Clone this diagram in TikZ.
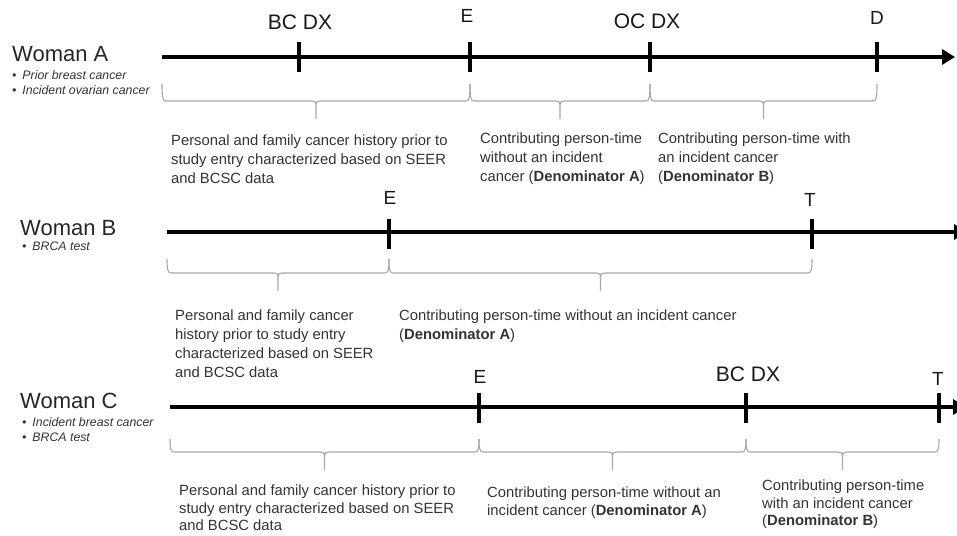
\documentclass[tikz,border=0pt]{standalone}
\usepackage{fontspec}
\setmainfont{Liberation Sans}
\usetikzlibrary{arrows.meta}

\definecolor{bodygray}{HTML}{333333}
\definecolor{bracegray}{HTML}{A8A8A8}

\tikzset{
  timeline/.style={line width=4pt, -{Triangle[length=13pt,width=15pt]}},
  tickmark/.style={line width=4pt},
  event/.style={font=\fontsize{19}{22}\selectfont, anchor=base, inner sep=0pt, text=black!90},
  diagnosis/.style={event, font=\fontsize{21}{24}\selectfont},
  woman/.style={font=\fontsize{22}{26}\selectfont, anchor=base west, inner sep=0pt, text=black!85},
  bullets/.style={font=\fontsize{12.3}{15}\selectfont\itshape, anchor=north west, align=left, inner sep=0pt, text=bodygray},
  note/.style={font=\fontsize{14.8}{19}\selectfont, anchor=north west, align=left, inner sep=0pt, text=bodygray},
  tight note/.style={note, font=\fontsize{14.8}{17.5}\selectfont},
  brace line/.style={draw=bracegray, line width=1.1pt}
}

% brace under a span: left x, right x, top of ends, level of flat part
\newcommand{\spanbrace}[4]{%
  \pgfmathsetmacro{\bxm}{(#1+#2)/2}
  \draw[brace line] (#1,#3) .. controls (#1,#4-3) and (#1+1,#4) .. (#1+4,#4) -- (\bxm-4,#4)
    .. controls (\bxm-1,#4) and (\bxm,#4+1) .. (\bxm,#4+4) -- (\bxm,#4+18)
    (\bxm,#4+4) .. controls (\bxm,#4+1) and (\bxm+1,#4) .. (\bxm+4,#4) -- (#2-4,#4)
    .. controls (#2-1,#4) and (#2,#4-3) .. (#2,#3);
}

\begin{document}
\begin{tikzpicture}[x=1pt,y=-1pt]
\useasboundingbox (0,0) rectangle (957,535);
\clip (0,0) rectangle (957,535);

% Woman A
\node[woman] (womanA) at (12,62) {Woman A};
\node[bullets] (listA) at (12,70) {•\hspace{6pt}Prior breast cancer\\•\hspace{6pt}Incident ovarian cancer};
\draw[timeline] (162,57) -- (955,57);
\foreach \x in {299,470,650,877}
  \draw[tickmark] (\x,42) -- (\x,72);
\node[diagnosis] (bcdxA) at (300,30) {BC DX};
\node[event] (entryA) at (467,23) {E};
\node[diagnosis] (ocdxA) at (647,29) {OC DX};
\node[event] (deathA) at (877,25) {D};
\spanbrace{162}{470}{84}{101}
\spanbrace{470}{650}{84}{101}
\spanbrace{650}{877}{84}{101}
\node[note] (histA) at (171,135) {Personal and family cancer history prior to\\study entry characterized based on SEER\\and BCSC data};
\node[note] (withoutA) at (480,133) {Contributing person-time\\without an incident\\cancer (\textbf{Denominator A})};
\node[note] (withA) at (658,133) {Contributing person-time with\\an incident cancer\\(\textbf{Denominator B})};

% Woman B
\node[woman] (womanB) at (20,235) {Woman B};
\node[bullets] (listB) at (22,242) {•\hspace{6pt}BRCA test};
\draw[timeline] (167,232) -- (967,232);
\foreach \x in {389,812}
  \draw[tickmark] (\x,219) -- (\x,249);
\node[event] (entryB) at (390,204) {E};
\node[event] (testB) at (810,206) {T};
\spanbrace{167}{389}{259}{273}
\spanbrace{389}{812}{259}{273}
\node[note] (histB) at (175,310) {Personal and family cancer\\history prior to study entry\\characterized based on SEER\\and BCSC data};
\node[note] (withoutB) at (399,310) {Contributing person-time without an incident cancer\\(\textbf{Denominator A})};

% Woman C
\node[woman] (womanC) at (20,408) {Woman C};
\node[bullets] (listC) at (22,417) {•\hspace{6pt}Incident breast cancer\\•\hspace{6pt}BRCA test};
\draw[timeline] (170,407) -- (966,407);
\foreach \x in {479,746,939}
  \draw[tickmark] (\x,393) -- (\x,423);
\node[event] (entryC) at (480,383) {E};
\node[diagnosis] (bcdxC) at (748,381) {BC DX};
\node[event] (testC) at (938,385) {T};
\spanbrace{170}{479}{439}{452}
\spanbrace{479}{746}{439}{452}
\spanbrace{746}{939}{439}{452}
\node[tight note] (histC) at (179,485) {Personal and family cancer history prior to\\study entry characterized based on SEER\\and BCSC data};
\node[tight note] (withoutC) at (487,487) {Contributing person-time without an\\incident cancer (\textbf{Denominator A})};
\node[tight note] (withC) at (762,480) {Contributing person-time\\with an incident cancer\\(\textbf{Denominator B})};
\end{tikzpicture}
\end{document}
